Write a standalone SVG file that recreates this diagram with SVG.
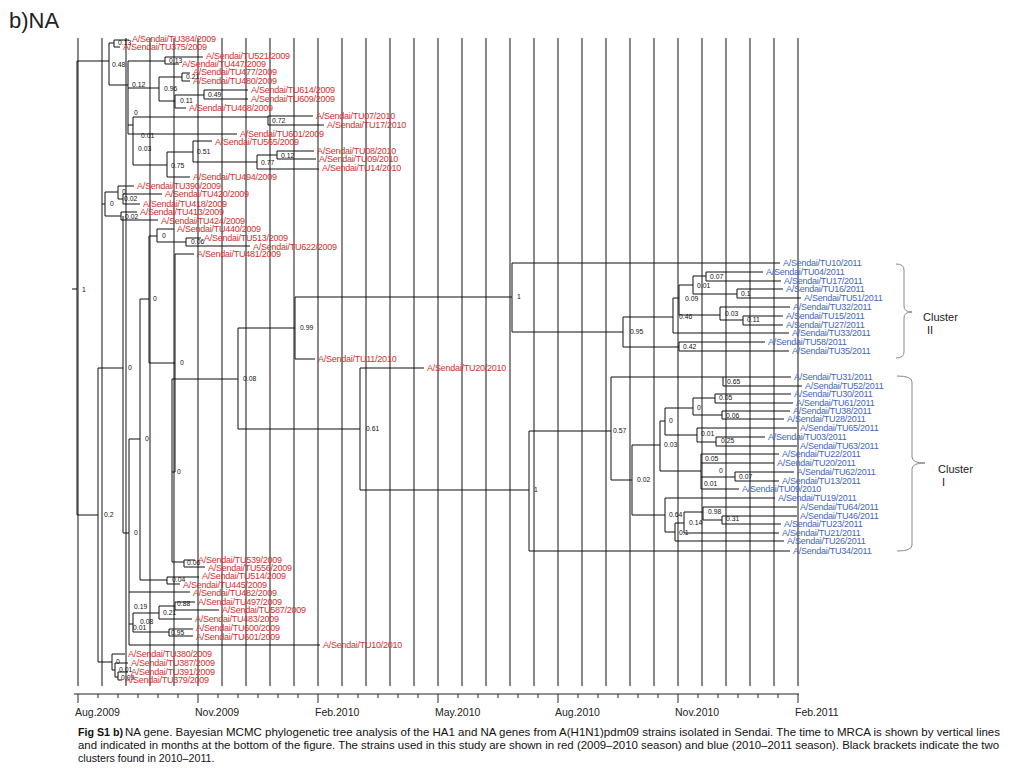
<svg xmlns="http://www.w3.org/2000/svg" width="1024" height="768" viewBox="0 0 1024 768">
<style>
text{font-family:"Liberation Sans",Arial,sans-serif}
.grid{stroke:#3c3c3c;stroke-width:1.2;fill:none}
.tr{stroke:#111;stroke-width:1;fill:none}
.ax{stroke:#222;stroke-width:1;fill:none}
.br{stroke:#8a8a8a;stroke-width:1;fill:none}
.r{fill:#d42f2f;font-size:9px;letter-spacing:-0.25px}
.b{fill:#4466bb;font-size:9px;letter-spacing:-0.25px}
.n{fill:#111;font-size:6.8px}
.axl{fill:#222;font-size:10.5px}
.cap{fill:#111;font-size:10.7px}
.cl{fill:#222;font-size:11px}
</style>
<rect width="1024" height="768" fill="#fff"/>
<text x="9" y="28" style="font-size:22px;fill:#222">b)NA</text>
<g id="grid">
<path class="grid" d="M78 38V686M102 38V686M126 38V686M150 38V686M174 38V686M198 38V686M222 38V686M246 38V686M270 38V686M294 38V686M318 38V686M342 38V686M366 38V686M390 38V686M414 38V686M438 38V686M462 38V686M486 38V686M510 38V686M534 38V686M558 38V686M582 38V686M606 38V686M630 38V686M654 38V686M678 38V686M702 38V686M726 38V686M750 38V686M774 38V686M798 38V686"/>
</g>
<g id="connectors">
<path class="tr" d="M72 289H77M77 61V515M77 61H109M77 515H98
M109 43V85M109 43H114M114 40V47M114 40H129M114 47H120
M109 85H128M128 61V134
M128 61H165M165 57V64M165 57H203M165 64H179
M128 88H159M159 77V101M159 77H182M182 73V81M182 73H190M182 81H190
M159 101H175M175 95V108M175 95H204M204 90V99M204 90H248M204 99H248M175 108H186
M128 134H237
M128 125H133M133 117V165M133 117H268M268 116V125M268 116H313M268 125H324
M133 165H167M167 152V177M167 177H190M167 152H193M193 141V162M193 141H212
M193 162H257M257 155V169M257 169H319M257 155H277M277 151V159M277 151H314M277 159H316"/>
<path class="tr" d="M102 204H105M105 192V216M105 192H118M118 186V199M118 186H134M118 199H123M123 194V204M123 194H162M123 204H140
M105 216H121M121 212V220M121 212H137M121 220H158"/>
<path class="tr" d="M98 368V662M98 368H123M123 216V533M123 533H129M129 439V645
M129 439H140M140 299V580
M140 299H149M149 236V363M149 236H157M157 229V242M157 229H174M157 242H186M186 238V246M186 238H201M186 246H250
M149 363H175M175 254V472M175 254H194M172 472H175M172 379V562
M172 379H238M238 328V429
M238 328H295M295 297V359M295 359H315M295 297H512M512 263V332M512 263H780M512 332H623
M238 429H360M360 368V490M360 368H424M360 490H529M529 431V551M529 551H790M529 431H611
M172 562H184M184 560V567M184 560H195M184 567H205
M140 580H167M167 577V584M167 577H199M167 584H180
M129 592H190
M129 624H133M133 613V632M133 613H159M159 606V619M159 606H175M175 602V610M175 602H195M175 610H219M159 619H192
M133 632H169M169 629V636M169 629H193M169 636H193
M129 645H320
M98 662H112M112 654V670M112 654H125M112 670H115M115 663V677M115 663H128M115 677H118M118 672V680M118 672H128M118 680H122"/>
<path class="tr" d="M623 317V347M623 317H673M673 298V333M673 333H789M673 298H679M679 285V315
M679 285H693M693 276V294M693 276H706M706 272V281M706 272H763M706 281H781
M693 294H737M737 289V298M737 289H783M737 298H801
M679 315H720M720 307V320M720 307H790M720 320H743M743 316V325M743 316H783M743 325H783
M623 347H679M679 342V351M679 342H765M679 351H789"/>
<path class="tr" d="M611 377V480M611 377H791M723 377V386M723 386H802
M611 480H632M632 445V515
M632 445H660M660 421V471
M660 421H665M665 408V435
M665 408H693M693 398V415
M693 398H715M715 394V403M715 394H791M715 403H793
M693 415H722M722 411V419M722 411H790M722 419H784
M665 435H697M697 428V442M697 428H797M697 442H716M716 437V446M716 437H765M716 446H797
M660 471H701M701 454V489M701 454H779M701 463H774M701 477H735M735 472V481M735 472H794M735 481H779M701 489H739
M632 515H665M665 498V532M665 498H775M665 532H675M675 523V541M675 541H784M675 523H684M684 512V533M684 533H779M684 512H703M703 507V520M703 507H797M703 520H722M722 516V524M722 516H797M722 524H781"/>
</g>
<g id="internal-labels">
<g id="n-root"><text class="n" x="82" y="292">1</text></g>
<g id="n-a1"><text class="n" x="112" y="67">0.48</text></g>
<g id="n-a2"><text class="n" x="118" y="45">0.13</text></g>
<g id="n-a3"><text class="n" x="132" y="87">0.12</text></g>
<g id="n-a4"><text class="n" x="169" y="63">0.13</text></g>
<g id="n-a5"><text class="n" x="164" y="91">0.96</text></g>
<g id="n-a6"><text class="n" x="186" y="79">0.21</text></g>
<g id="n-a7"><text class="n" x="180" y="103">0.11</text></g>
<g id="n-a8"><text class="n" x="208" y="97">0.49</text></g>
<g id="n-a9"><text class="n" x="134" y="115">0</text></g>
<g id="n-a10"><text class="n" x="141" y="138">0.01</text></g>
<g id="n-a11"><text class="n" x="138" y="151">0.03</text></g>
<g id="n-a12"><text class="n" x="272" y="123">0.72</text></g>
<g id="n-a13"><text class="n" x="171" y="168">0.75</text></g>
<g id="n-a14"><text class="n" x="197" y="154">0.51</text></g>
<g id="n-a15"><text class="n" x="261" y="165">0.77</text></g>
<g id="n-a16"><text class="n" x="281" y="158">0.12</text></g>
<g id="n-b1"><text class="n" x="110" y="206">0</text></g>
<g id="n-b2"><text class="n" x="122" y="194">0</text></g>
<g id="n-b3"><text class="n" x="124" y="201">0.02</text></g>
<g id="n-b4"><text class="n" x="125" y="219">0.02</text></g>
<g id="n-c1"><text class="n" x="128" y="370">0</text></g>
<g id="n-c2"><text class="n" x="104" y="517">0.2</text></g>
<g id="n-c3"><text class="n" x="134" y="535">0</text></g>
<g id="n-c4"><text class="n" x="145" y="441">0</text></g>
<g id="n-c5"><text class="n" x="153" y="301">0</text></g>
<g id="n-c6"><text class="n" x="162" y="238">0</text></g>
<g id="n-c7"><text class="n" x="191" y="244">0.06</text></g>
<g id="n-c8"><text class="n" x="180" y="365">0</text></g>
<g id="n-c9"><text class="n" x="177" y="474">0</text></g>
<g id="n-c10"><text class="n" x="243" y="381">0.08</text></g>
<g id="n-c11"><text class="n" x="300" y="330">0.99</text></g>
<g id="n-c12"><text class="n" x="517" y="299">1</text></g>
<g id="n-c13"><text class="n" x="366" y="431">0.61</text></g>
<g id="n-c14"><text class="n" x="534" y="492">1</text></g>
<g id="n-c15"><text class="n" x="187" y="565">0.06</text></g>
<g id="n-c16"><text class="n" x="172" y="582">0.04</text></g>
<g id="n-c17"><text class="n" x="134" y="609">0.19</text></g>
<g id="n-c18"><text class="n" x="140" y="624">0.08</text></g>
<g id="n-c19"><text class="n" x="133" y="630">0.01</text></g>
<g id="n-c20"><text class="n" x="163" y="615">0.21</text></g>
<g id="n-c21"><text class="n" x="177" y="606">0.88</text></g>
<g id="n-c22"><text class="n" x="171" y="635">0.95</text></g>
<g id="n-c23"><text class="n" x="116" y="664">0</text></g>
<g id="n-c24"><text class="n" x="119" y="672">0.01</text></g>
<g id="n-c25"><text class="n" x="121" y="680">0.09</text></g>
<g id="n-d1"><text class="n" x="630" y="334">0.95</text></g>
<g id="n-d2"><text class="n" x="679" y="319">0.46</text></g>
<g id="n-d3"><text class="n" x="685" y="301">0.09</text></g>
<g id="n-d4"><text class="n" x="697" y="288">0.01</text></g>
<g id="n-d5"><text class="n" x="710" y="279">0.07</text></g>
<g id="n-d6"><text class="n" x="741" y="296">0.1</text></g>
<g id="n-d7"><text class="n" x="725" y="316">0.03</text></g>
<g id="n-d8"><text class="n" x="747" y="322">0.11</text></g>
<g id="n-d9"><text class="n" x="683" y="349">0.42</text></g>
<g id="n-e1"><text class="n" x="613" y="433">0.57</text></g>
<g id="n-e2"><text class="n" x="727" y="384">0.65</text></g>
<g id="n-e3"><text class="n" x="637" y="482">0.02</text></g>
<g id="n-e4"><text class="n" x="664" y="447">0.03</text></g>
<g id="n-e5"><text class="n" x="669" y="423">0</text></g>
<g id="n-e6"><text class="n" x="697" y="410">0</text></g>
<g id="n-e7"><text class="n" x="719" y="400">0.05</text></g>
<g id="n-e8"><text class="n" x="726" y="418">0.06</text></g>
<g id="n-e9"><text class="n" x="701" y="436">0.01</text></g>
<g id="n-e10"><text class="n" x="721" y="443">0.25</text></g>
<g id="n-e11"><text class="n" x="705" y="461">0.05</text></g>
<g id="n-e12"><text class="n" x="719" y="473">0</text></g>
<g id="n-e13"><text class="n" x="704" y="486">0.01</text></g>
<g id="n-e14"><text class="n" x="739" y="479">0.07</text></g>
<g id="n-e15"><text class="n" x="669" y="517">0.64</text></g>
<g id="n-e16"><text class="n" x="679" y="535">0.1</text></g>
<g id="n-e17"><text class="n" x="689" y="525">0.14</text></g>
<g id="n-e18"><text class="n" x="708" y="514">0.98</text></g>
<g id="n-e19"><text class="n" x="726" y="521">0.31</text></g>
</g>
<g id="leaves-2009-2010">
<g id="l1"><text class="r" x="132" y="42">A/Sendai/TU384/2009</text></g>
<g id="l2"><text class="r" x="123" y="50">A/Sendai/TU375/2009</text></g>
<g id="l3"><text class="r" x="206" y="59">A/Sendai/TU521/2009</text></g>
<g id="l4"><text class="r" x="182" y="67">A/Sendai/TU447/2009</text></g>
<g id="l5"><text class="r" x="193" y="75">A/Sendai/TU477/2009</text></g>
<g id="l6"><text class="r" x="193" y="84">A/Sendai/TU480/2009</text></g>
<g id="l7"><text class="r" x="251" y="93">A/Sendai/TU614/2009</text></g>
<g id="l8"><text class="r" x="251" y="102">A/Sendai/TU609/2009</text></g>
<g id="l9"><text class="r" x="189" y="111">A/Sendai/TU468/2009</text></g>
<g id="l10"><text class="r" x="316" y="119">A/Sendai/TU07/2010</text></g>
<g id="l11"><text class="r" x="327" y="128">A/Sendai/TU17/2010</text></g>
<g id="l12"><text class="r" x="240" y="137">A/Sendai/TU601/2009</text></g>
<g id="l13"><text class="r" x="215" y="145">A/Sendai/TU565/2009</text></g>
<g id="l14"><text class="r" x="317" y="154">A/Sendai/TU08/2010</text></g>
<g id="l15"><text class="r" x="319" y="162">A/Sendai/TU09/2010</text></g>
<g id="l16"><text class="r" x="322" y="171">A/Sendai/TU14/2010</text></g>
<g id="l17"><text class="r" x="193" y="180">A/Sendai/TU494/2009</text></g>
<g id="l18"><text class="r" x="137" y="189">A/Sendai/TU390/2009</text></g>
<g id="l19"><text class="r" x="165" y="197">A/Sendai/TU420/2009</text></g>
<g id="l20"><text class="r" x="143" y="207">A/Sendai/TU418/2009</text></g>
<g id="l21"><text class="r" x="140" y="215">A/Sendai/TU413/2009</text></g>
<g id="l22"><text class="r" x="161" y="224">A/Sendai/TU424/2009</text></g>
<g id="l23"><text class="r" x="177" y="232">A/Sendai/TU440/2009</text></g>
<g id="l24"><text class="r" x="204" y="241">A/Sendai/TU513/2009</text></g>
<g id="l25"><text class="r" x="253" y="250">A/Sendai/TU622/2009</text></g>
<g id="l26"><text class="r" x="197" y="257">A/Sendai/TU481/2009</text></g>
<g id="l27"><text class="r" x="318" y="362">A/Sendai/TU11/2010</text></g>
<g id="l28"><text class="r" x="427" y="371">A/Sendai/TU20/2010</text></g>
<g id="l29"><text class="r" x="198" y="563">A/Sendai/TU539/2009</text></g>
<g id="l30"><text class="r" x="208" y="571">A/Sendai/TU556/2009</text></g>
<g id="l31"><text class="r" x="202" y="579">A/Sendai/TU514/2009</text></g>
<g id="l32"><text class="r" x="183" y="588">A/Sendai/TU445/2009</text></g>
<g id="l33"><text class="r" x="193" y="596">A/Sendai/TU482/2009</text></g>
<g id="l34"><text class="r" x="198" y="605">A/Sendai/TU497/2009</text></g>
<g id="l35"><text class="r" x="222" y="613">A/Sendai/TU587/2009</text></g>
<g id="l36"><text class="r" x="195" y="622">A/Sendai/TU483/2009</text></g>
<g id="l37"><text class="r" x="196" y="631">A/Sendai/TU600/2009</text></g>
<g id="l38"><text class="r" x="196" y="640">A/Sendai/TU601/2009</text></g>
<g id="l39"><text class="r" x="323" y="648">A/Sendai/TU10/2010</text></g>
<g id="l40"><text class="r" x="128" y="657">A/Sendai/TU380/2009</text></g>
<g id="l41"><text class="r" x="131" y="666">A/Sendai/TU387/2009</text></g>
<g id="l42"><text class="r" x="131" y="675">A/Sendai/TU391/2009</text></g>
<g id="l43"><text class="r" x="125" y="683">A/Sendai/TU379/2009</text></g>
</g>
<g id="leaves-2010-2011">
<g id="m1"><text class="b" x="783" y="266">A/Sendai/TU10/2011</text></g>
<g id="m2"><text class="b" x="766" y="275">A/Sendai/TU04/2011</text></g>
<g id="m3"><text class="b" x="784" y="284">A/Sendai/TU17/2011</text></g>
<g id="m4"><text class="b" x="786" y="292">A/Sendai/TU16/2011</text></g>
<g id="m5"><text class="b" x="804" y="301">A/Sendai/TU51/2011</text></g>
<g id="m6"><text class="b" x="793" y="310">A/Sendai/TU32/2011</text></g>
<g id="m7"><text class="b" x="786" y="319">A/Sendai/TU15/2011</text></g>
<g id="m8"><text class="b" x="786" y="328">A/Sendai/TU27/2011</text></g>
<g id="m9"><text class="b" x="792" y="336">A/Sendai/TU33/2011</text></g>
<g id="m10"><text class="b" x="768" y="345">A/Sendai/TU58/2011</text></g>
<g id="m11"><text class="b" x="792" y="354">A/Sendai/TU35/2011</text></g>
<g id="m12"><text class="b" x="794" y="380">A/Sendai/TU31/2011</text></g>
<g id="m13"><text class="b" x="805" y="389">A/Sendai/TU52/2011</text></g>
<g id="m14"><text class="b" x="794" y="397">A/Sendai/TU30/2011</text></g>
<g id="m15"><text class="b" x="796" y="406">A/Sendai/TU61/2011</text></g>
<g id="m16"><text class="b" x="793" y="414">A/Sendai/TU38/2011</text></g>
<g id="m17"><text class="b" x="787" y="422">A/Sendai/TU28/2011</text></g>
<g id="m18"><text class="b" x="800" y="431">A/Sendai/TU65/2011</text></g>
<g id="m19"><text class="b" x="768" y="440">A/Sendai/TU03/2011</text></g>
<g id="m20"><text class="b" x="800" y="449">A/Sendai/TU63/2011</text></g>
<g id="m21"><text class="b" x="782" y="457">A/Sendai/TU22/2011</text></g>
<g id="m22"><text class="b" x="777" y="466">A/Sendai/TU20/2011</text></g>
<g id="m23"><text class="b" x="797" y="475">A/Sendai/TU62/2011</text></g>
<g id="m24"><text class="b" x="782" y="484">A/Sendai/TU13/2011</text></g>
<g id="m25"><text class="b" x="742" y="492">A/Sendai/TU09/2010</text></g>
<g id="m26"><text class="b" x="778" y="501">A/Sendai/TU19/2011</text></g>
<g id="m27"><text class="b" x="800" y="510">A/Sendai/TU64/2011</text></g>
<g id="m28"><text class="b" x="800" y="519">A/Sendai/TU46/2011</text></g>
<g id="m29"><text class="b" x="784" y="527">A/Sendai/TU23/2011</text></g>
<g id="m30"><text class="b" x="782" y="536">A/Sendai/TU21/2011</text></g>
<g id="m31"><text class="b" x="787" y="544">A/Sendai/TU26/2011</text></g>
<g id="m32"><text class="b" x="793" y="554">A/Sendai/TU34/2011</text></g>
</g>
<g id="cluster-II">
<path class="br" d="M896 264Q904 264 904 270V306Q904 312 912 312Q904 312 904 318V352Q904 358 896 358"/>
<text class="cl" x="923" y="321">Cluster</text>
<text class="cl" x="927" y="334">II</text>
</g>
<g id="cluster-I">
<path class="br" d="M897 376Q912 376 912 382V457Q912 463 925 463Q912 463 912 469V545Q912 551 897 551"/>
<text class="cl" x="938" y="473">Cluster</text>
<text class="cl" x="942" y="486">I</text>
</g>
<g id="axis">
<path class="ax" d="M74 694H799M78 694V703M198 694V703M318 694V703M438 694V703M558 694V703M678 694V703M798 694V703"/>
<path class="ax" d="M98 694V698M118 694V698M138 694V698M158 694V698M178 694V698M218 694V698M238 694V698M258 694V698M278 694V698M298 694V698M338 694V698M358 694V698M378 694V698M398 694V698M418 694V698M458 694V698M478 694V698M498 694V698M518 694V698M538 694V698M578 694V698M598 694V698M618 694V698M638 694V698M658 694V698M698 694V698M718 694V698M738 694V698M758 694V698M778 694V698"/>
<text class="axl" x="75" y="716">Aug.2009</text>
<text class="axl" x="195" y="716">Nov.2009</text>
<text class="axl" x="315" y="716">Feb.2010</text>
<text class="axl" x="435" y="716">May.2010</text>
<text class="axl" x="555" y="716">Aug.2010</text>
<text class="axl" x="675" y="716">Nov.2010</text>
<text class="axl" x="795" y="716">Feb.2011</text>
</g>
<g id="caption">
<text class="cap" x="78" y="736" style="font-weight:bold">Fig S1 b)</text>
<text class="cap" x="125" y="736" textLength="875" lengthAdjust="spacingAndGlyphs">NA gene. Bayesian MCMC phylogenetic tree analysis of the HA1 and NA genes from A(H1N1)pdm09 strains isolated in Sendai. The time to MRCA is shown by vertical lines</text>
<text class="cap" x="78" y="749" textLength="921" lengthAdjust="spacingAndGlyphs">and indicated in months at the bottom of the figure. The strains used in this study are shown in red (2009–2010 season) and blue (2010–2011 season). Black brackets indicate the two</text>
<text class="cap" x="78" y="762">clusters found in 2010–2011.</text>
</g>
</svg>
